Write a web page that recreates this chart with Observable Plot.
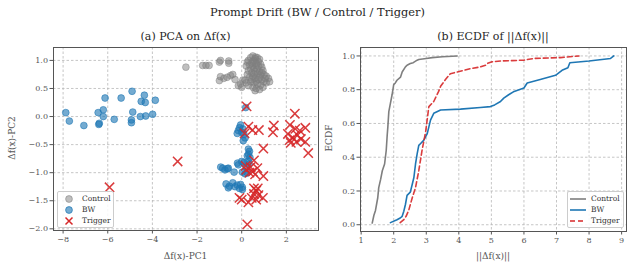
<!DOCTYPE html>
<html><head><meta charset="utf-8">
<script src="https://cdn.jsdelivr.net/npm/d3@7"></script>
<script src="https://cdn.jsdelivr.net/npm/@observablehq/plot@0.6"></script>
<style>
body{margin:0;background:#fff;font-family:"DejaVu Serif",serif;}
#root{position:relative;width:635px;height:273px;overflow:hidden;}
.t{position:absolute;white-space:nowrap;color:#262626;line-height:1.2;}
.lab{position:absolute;white-space:nowrap;color:#555;font-size:9px;}
.panel{position:absolute;}
.leg{position:absolute;border:1px solid #ccc;border-radius:2px;background:rgba(255,255,255,0.85);font-size:7.5px;color:#333;}
</style></head>
<body><div id="root"></div>
<script>
// ---- Panel (a) data: PCA on Δf(x)
const controlX = [-2.5,-1.75,-1.6,-1.46,-1.0,-0.95,-0.58,-0.58,-1.0,-0.95,-0.8,-0.65,-0.5,-0.4,-0.3,-0.15,0.0,-0.05,0.05,
  0.3,0.4,0.5,0.55,0.6,0.7,0.75,0.8,0.45,0.35,0.5,0.65,0.85,0.9,0.4,0.55,0.7,0.3,0.6,0.8,0.95,0.45,0.7,0.85,1.0,1.1,1.2,1.25,1.1,0.5,0.35,0.25,0.6,0.75,0.9,1.0,0.4,0.55,0.7,0.85,0.95,0.5,0.65,0.8,0.6,0.3,0.2,0.15,0.2,0.25,0.65,0.75,0.55,0.65,0.45,1.05,0.8,0.9,0.5,0.62];
const controlY = [0.88,0.91,0.91,0.91,0.97,1.0,0.99,0.95,0.64,0.71,0.68,0.7,0.73,0.75,0.66,0.55,0.52,0.58,0.65,
  1.0,1.05,1.08,1.0,1.03,1.05,0.98,1.02,0.95,0.92,0.9,0.92,0.93,0.88,0.85,0.85,0.85,0.82,0.8,0.8,0.82,0.78,0.76,0.74,0.75,0.72,0.68,0.62,0.6,0.72,0.7,0.75,0.68,0.66,0.65,0.62,0.62,0.6,0.58,0.56,0.52,0.52,0.5,0.48,0.46,0.55,0.6,0.65,0.9,0.97,0.95,0.9,0.76,0.63,0.66,0.68,0.7,0.78,0.98,1.06];
const bwX = [-7.88,-7.72,-7.07,-6.38,-6.4,-6.43,-6.2,-6.2,-6.12,-5.71,-5.4,-4.91,-4.88,-4.94,-4.94,-4.54,-4.3,-3.99,-4.36,-4.5,-4.32,-3.87,
  0.18,-0.1,-0.15,-0.05,0.0,0.05,-0.2,0.1,0.15,0.07,0.3,0.35,0.3,0.37,0.25,0.33,
  -0.94,-0.85,-0.64,-0.75,-0.6,-0.34,-0.19,-0.15,0.0,0.03,0.1,0.2,0.25,0.3,0.15,
  -0.7,-0.6,-0.55,-0.4,-0.3,-0.2,-0.1,0.03,0.03,-0.05];
const bwY = [0.07,-0.08,-0.16,-0.12,-0.14,0.07,0.12,0.0,0.33,-0.05,0.33,0.45,0.08,-0.06,-0.11,0.0,0.01,0.04,0.38,0.27,0.25,0.29,
  0.16,-0.2,-0.25,-0.15,-0.28,-0.22,-0.3,-0.32,-0.38,-0.43,-0.58,-0.62,-0.67,-0.73,-0.7,-0.85,
  -0.9,-0.92,-0.93,-0.95,-0.92,-0.99,-0.83,-0.86,-0.8,-0.99,-0.82,-0.9,-1.0,-0.8,-1.02,
  -1.2,-1.27,-1.24,-1.18,-1.25,-1.22,-1.28,-1.26,-1.3,-1.21];
const trigX = [0.22,2.38,0.3,0.13,0.48,0.77,1.44,1.4,2.16,2.07,2.4,2.6,2.5,2.3,2.65,2.15,2.85,2.85,2.2,2.45,0.97,2.98,-5.92,-2.87,
  0.18,0.4,0.55,0.35,0.5,0.7,0.6,0.2,0.97,0.55,0.65,0.72,0.55,0.75,-0.1,0.0,0.3,0.45,0.65,0.95,0.25];
const trigY = [0.18,0.05,-0.18,-0.3,-0.24,-0.24,-0.16,-0.28,-0.15,-0.31,-0.22,-0.25,-0.33,-0.38,-0.4,-0.42,-0.2,-0.45,-0.47,-0.45,-0.57,-0.65,-1.26,-0.8,
  -0.88,-0.9,-0.78,-1.0,-0.98,-0.92,-1.03,-0.95,-1.06,-1.28,-1.32,-1.28,-1.38,-1.4,-1.45,-1.48,-1.53,-1.45,-1.48,-1.45,-1.92];
const pcaXTicks = [-8,-6,-4,-2,0,2];
const pcaYTicks = [-2.0,-1.5,-1.0,-0.5,0.0,0.5,1.0];

// ---- Panel (b) data: ECDF of ||Δf(x)||
const ecdfControlX = [1.34,1.39,1.44,1.51,1.54,1.6,1.65,1.72,1.77,1.8,1.82,1.85,1.9,1.95,2.0,2.05,2.1,2.21,2.26,2.36,2.41,2.51,2.6,2.72,2.77,3.0,3.18,3.5,3.95];
const ecdfControlF = [0.01,0.055,0.085,0.16,0.22,0.27,0.32,0.36,0.44,0.53,0.58,0.67,0.72,0.77,0.83,0.84,0.856,0.875,0.905,0.935,0.945,0.955,0.96,0.975,0.979,0.985,0.99,0.995,1.0];
const ecdfBwX = [1.9,2.1,2.2,2.26,2.31,2.36,2.41,2.51,2.57,2.62,2.67,2.72,2.77,2.82,2.92,3.03,3.08,3.13,3.23,3.44,4.05,4.66,4.97,5.1,5.28,5.38,5.53,5.7,6.0,6.1,6.5,6.97,7.17,7.35,7.41,8.0,8.66,8.76];
const ecdfBwF = [0.0125,0.03,0.04,0.05,0.08,0.12,0.174,0.193,0.24,0.28,0.36,0.42,0.47,0.48,0.5,0.54,0.58,0.62,0.66,0.68,0.685,0.695,0.7,0.71,0.73,0.75,0.77,0.79,0.81,0.84,0.86,0.885,0.915,0.93,0.96,0.97,0.985,1.0];
const ecdfTrigX = [2.2,2.31,2.38,2.46,2.57,2.67,2.77,2.87,2.98,3.08,3.23,3.38,3.44,3.59,3.74,3.95,4.36,4.66,4.82,4.87,5.02,5.28,6.0,6.3,7.12,7.69];
const ecdfTrigF = [0.0125,0.03,0.05,0.085,0.16,0.22,0.32,0.44,0.55,0.7,0.73,0.79,0.82,0.86,0.895,0.905,0.925,0.935,0.945,0.955,0.965,0.97,0.975,0.985,0.99,1.0];
const ecdfXTicks = [1,2,3,4,5,6,7,8,9];
const ecdfYTicks = [0.0,0.2,0.4,0.6,0.8,1.0];

const GRAY="#7f7f7f", BLUE="#1f77b4", RED="#d62728";
const zip = (xs, ys) => xs.map((x,i)=>({x, y: ys[i]}));
const gridStyle = {stroke:"#b8b8b8", strokeOpacity:1, strokeDasharray:"2.5,2", strokeWidth:0.8};
const axStyle = {tickSize:3.5, tickPadding:2, label:null, color:"#555"};
const f1 = d3.format(".1f");

const root = document.getElementById("root");
function addDiv(cls, text, css){const d=document.createElement("div");d.className=cls;d.textContent=text;Object.assign(d.style,css);root.appendChild(d);return d;}

addDiv("t","Prompt Drift (BW / Control / Trigger)",{left:"0",width:"635px",textAlign:"center",top:"6px",fontSize:"11.4px"});
addDiv("t","(a) PCA on Δf(x)",{left:"53px",width:"265px",textAlign:"center",top:"30px",fontSize:"11px"});
addDiv("t","(b) ECDF of ||Δf(x)||",{left:"360px",width:"266px",textAlign:"center",top:"30px",fontSize:"11px"});

// Panel a
const pa = Plot.plot({
  width:325, height:233, marginLeft:53, marginRight:7, marginTop:7, marginBottom:43,
  style:{fontFamily:"DejaVu Serif", fontSize:"8px", background:"transparent"},
  x:{domain:[-8.43,3.44]}, y:{domain:[-2.03,1.23]},
  marks:[
    Plot.gridX(pcaXTicks, gridStyle),
    Plot.gridY(pcaYTicks, gridStyle),
    Plot.dot(zip(controlX,controlY),{x:"x",y:"y",r:3.4,fill:GRAY,fillOpacity:0.5,stroke:GRAY,strokeOpacity:0.55,strokeWidth:0.8}),
    Plot.dot(zip(bwX,bwY),{x:"x",y:"y",r:3.4,fill:BLUE,fillOpacity:0.62,stroke:BLUE,strokeOpacity:0.7,strokeWidth:0.8}),
    Plot.dot(zip(trigX,trigY),{x:"x",y:"y",r:4.3,symbol:"times",stroke:RED,strokeWidth:1.5,strokeOpacity:0.9}),
    Plot.axisX(pcaXTicks,{...axStyle}),
    Plot.axisY(pcaYTicks,{...axStyle, tickFormat:f1}),
    Plot.frame({stroke:"#555", strokeWidth:1})
  ]
});
pa.classList.add("panel"); pa.style.left="0px"; pa.style.top="40px"; root.appendChild(pa);

// Panel b
const pb = Plot.plot({
  width:315, height:233, marginLeft:40, marginRight:9, marginTop:7, marginBottom:42,
  style:{fontFamily:"DejaVu Serif", fontSize:"8px", background:"transparent"},
  x:{domain:[0.98,9.15]}, y:{domain:[-0.04,1.05]},
  marks:[
    Plot.gridX(ecdfXTicks, gridStyle),
    Plot.gridY(ecdfYTicks, gridStyle),
    Plot.line(zip(ecdfControlX,ecdfControlF),{x:"x",y:"y",stroke:GRAY,strokeWidth:1.6}),
    Plot.line(zip(ecdfBwX,ecdfBwF),{x:"x",y:"y",stroke:BLUE,strokeWidth:1.6}),
    Plot.line(zip(ecdfTrigX,ecdfTrigF),{x:"x",y:"y",stroke:RED,strokeWidth:1.6,strokeDasharray:"5,3",strokeOpacity:0.9}),
    Plot.axisX(ecdfXTicks,{...axStyle}),
    Plot.axisY(ecdfYTicks,{...axStyle, tickFormat:f1}),
    Plot.frame({stroke:"#555", strokeWidth:1})
  ]
});
pb.classList.add("panel"); pb.style.left="320px"; pb.style.top="40px"; root.appendChild(pb);

// axis labels
addDiv("lab","Δf(x)-PC1",{left:"53px",width:"265px",textAlign:"center",top:"251px"});
addDiv("lab","||Δf(x)||",{left:"360px",width:"266px",textAlign:"center",top:"251px"});
addDiv("lab","Δf(x)-PC2",{left:"12px",top:"138px",transform:"translate(-50%,-50%) rotate(-90deg)"});
addDiv("lab","ECDF",{left:"329px",top:"138px",transform:"translate(-50%,-50%) rotate(-90deg)"});

// legends
function legend(left, top, items){
  const box=document.createElement("div"); box.className="leg";
  Object.assign(box.style,{left:left+"px",top:top+"px",width:"55px",height:"35px"});
  items.forEach((it,i)=>{
    const row=document.createElement("div");
    Object.assign(row.style,{position:"absolute",left:"0",top:(2+i*11)+"px",height:"10px",width:"55px"});
    row.innerHTML = `<svg width="20" height="10" style="position:absolute;left:0;top:0">${it.sym}</svg><span style="position:absolute;left:${it.tx}px;top:0;line-height:10px">${it.label}</span>`;
    box.appendChild(row);
  });
  root.appendChild(box);
}
legend(57,191,[
  {label:"Control",tx:24,sym:`<circle cx="11" cy="5" r="3.4" fill="${GRAY}" fill-opacity="0.5" stroke="${GRAY}" stroke-opacity="0.55"/>`},
  {label:"BW",tx:24,sym:`<circle cx="11" cy="5" r="3.4" fill="${BLUE}" fill-opacity="0.62" stroke="${BLUE}" stroke-opacity="0.7"/>`},
  {label:"Trigger",tx:24,sym:`<path d="M7.5,1.5L14.5,8.5M14.5,1.5L7.5,8.5" stroke="${RED}" stroke-width="1.5"/>`}
]);
legend(567,191,[
  {label:"Control",tx:23,sym:`<line x1="2" x2="18" y1="5" y2="5" stroke="${GRAY}" stroke-width="1.6"/>`},
  {label:"BW",tx:23,sym:`<line x1="2" x2="18" y1="5" y2="5" stroke="${BLUE}" stroke-width="1.6"/>`},
  {label:"Trigger",tx:23,sym:`<line x1="2" x2="18" y1="5" y2="5" stroke="${RED}" stroke-width="1.6" stroke-dasharray="5,3"/>`}
]);
</script></body></html>
